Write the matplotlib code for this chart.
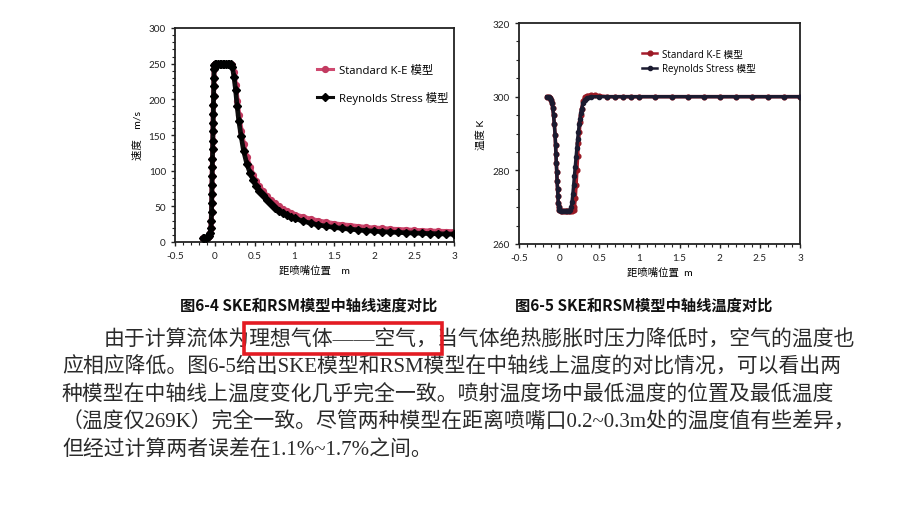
import matplotlib
matplotlib.use("Agg")
import matplotlib.pyplot as plt
from matplotlib.patches import Rectangle
from matplotlib.ticker import MultipleLocator

plt.rcParams['font.family'] = ['Lato', 'Noto Sans CJK SC', 'DejaVu Sans']

# ---------------- data: velocity along axis (Fig 6-4) ----------------
vel_x = [-0.150, -0.130, -0.110, -0.090, -0.075, -0.060, -0.050, -0.045, -0.042, -0.040,
         -0.038, -0.036, -0.034, -0.032, -0.030, -0.028, -0.026, -0.024, -0.022, -0.020,
         -0.018, -0.016, -0.014, -0.012, -0.010, -0.005, 0.000, 0.02, 0.04, 0.06,
         0.08, 0.10, 0.12, 0.14, 0.16, 0.18, 0.20, 0.22, 0.24, 0.26,
         0.28, 0.30, 0.33, 0.36, 0.40, 0.44, 0.48, 0.52, 0.56, 0.60,
         0.65, 0.70, 0.75, 0.80, 0.85, 0.90, 0.95, 1.0, 1.1, 1.2,
         1.3, 1.4, 1.5, 1.6, 1.7, 1.8, 1.9, 2.0, 2.1, 2.2,
         2.3, 2.4, 2.5, 2.6, 2.7, 2.8, 2.9, 3.0]
vel_rsm = [5, 5, 6, 7, 9, 12, 20, 30, 42, 55,
           67, 80, 92, 105, 117, 130, 142, 155, 167, 180,
           192, 205, 218, 230, 242, 248, 250, 250, 250, 250,
           250, 250, 250, 250, 250, 250, 249, 245, 232, 213,
           190, 170, 148, 128, 110, 97, 87, 78, 71, 66,
           59, 53, 48, 44, 41, 38, 35.5, 33, 29.5, 26.5,
           24, 22, 20.5, 19, 18, 17, 16, 15.2, 14.5, 14,
           13.4, 13, 12.6, 12.2, 11.9, 11.6, 11.3, 11]
vel_ske = [5, 5, 6, 7, 9, 12, 20, 30, 42, 55,
           67, 80, 92, 105, 117, 130, 142, 155, 167, 180,
           192, 205, 218, 230, 242, 248, 250, 250, 250, 250,
           250, 250, 250, 250, 250, 250, 250, 248, 238, 220,
           198, 178, 156, 137, 119, 105, 94, 85, 78, 72,
           65, 59, 54, 50, 46.5, 43.5, 41, 38.5, 35, 32,
           29.5, 27.5, 25.5, 24, 23, 21.5, 20.5, 19.5, 19, 18,
           17.5, 17, 16.3, 15.8, 15.4, 15, 14.7, 14.5]

# ---------------- data: temperature along axis (Fig 6-5) ----------------
tmp_x_rsm = [-0.15, -0.13, -0.11, -0.10, -0.09, -0.08, -0.07, -0.06, -0.05, -0.045,
             -0.04, -0.035, -0.03, -0.025, -0.02, -0.015, -0.01, -0.005, 0.0, 0.02,
             0.04, 0.06, 0.08, 0.10, 0.12, 0.14, 0.15, 0.16, 0.17, 0.18,
             0.19, 0.20, 0.21, 0.22, 0.23, 0.24, 0.25, 0.26, 0.27, 0.28,
             0.30, 0.32, 0.35, 0.40, 0.5, 0.6, 0.7, 0.8, 0.9, 1.0,
             1.2, 1.4, 1.6, 1.8, 2.0, 2.2, 2.4, 2.6, 2.8, 3.0]
tmp_rsm = [300, 300, 299.7, 299.2, 298.3, 297, 295, 292.5, 289.5, 287,
           284.5, 282, 279.5, 277, 275, 273, 271, 270, 269.3, 269,
           269, 269, 269, 269, 269, 269.3, 270, 271.5, 273.5, 276,
           278.5, 281, 283.5, 286, 288.5, 290.5, 292.5, 294, 295.5, 296.7,
           298.3, 299.2, 299.7, 300, 300, 300, 300, 300, 300, 300,
           300, 300, 300, 300, 300, 300, 300, 300, 300, 300]
tmp_x_ske = [-0.15, -0.13, -0.11, -0.10, -0.09, -0.08, -0.07, -0.06, -0.05, -0.045,
             -0.04, -0.035, -0.03, -0.025, -0.02, -0.015, -0.01, -0.005, 0.0, 0.02,
             0.04, 0.06, 0.08, 0.10, 0.12, 0.14, 0.16, 0.18, 0.19, 0.20,
             0.21, 0.22, 0.23, 0.24, 0.25, 0.26, 0.27, 0.28, 0.30, 0.32,
             0.35, 0.40, 0.45, 0.50, 0.6, 0.7, 0.8, 0.9, 1.0, 1.2,
             1.4, 1.6, 1.8, 2.0, 2.2, 2.4, 2.6, 2.8, 3.0]
tmp_ske = [300, 300, 299.7, 299.2, 298.3, 297, 295, 292.5, 289.5, 287,
           284.5, 282, 279.5, 277, 275, 273, 271, 270, 269.3, 269,
           269, 269, 269, 269, 269, 269, 269, 269.2, 270, 272.5,
           276, 280, 284, 287.5, 290.5, 293, 295, 296.7, 298.8, 299.8,
           300.3, 300.5, 300.4, 300.2, 300, 300, 300, 300, 300, 300,
           300, 300, 300, 300, 300, 300, 300, 300, 300]

xticks = [-0.5, 0, 0.5, 1, 1.5, 2, 2.5, 3]
xtick_labels = ['-0.5', '0', '0.5', '1', '1.5', '2', '2.5', '3']
vel_yticks = [0, 50, 100, 150, 200, 250, 300]
tmp_yticks = [260, 280, 300, 320]

legend_labels = ['Standard K-E 模型', 'Reynolds Stress 模型']

caption_left = '图6-4 SKE和RSM模型中轴线速度对比'
caption_right = '图6-5 SKE和RSM模型中轴线温度对比'
para_lines = [
    '由于计算流体为理想气体——空气，当气体绝热膨胀时压力降低时，空气的温度也',
    '应相应降低。图6-5给出SKE模型和RSM模型在中轴线上温度的对比情况，可以看出两',
    '种模型在中轴线上温度变化几乎完全一致。喷射温度场中最低温度的位置及最低温度',
    '（温度仅269K）完全一致。尽管两种模型在距离喷嘴口0.2~0.3m处的温度值有些差异，',
    '但经过计算两者误差在1.1%~1.7%之间。',
]
boxed_prefix = '由于计算流体为'
boxed_phrase = '理想气体——空气，'

W, H = 900, 506
fig = plt.figure(figsize=(9, 5.06), dpi=100)
fig.patch.set_facecolor('white')


def px_axes(l, t, r, b):
    return fig.add_axes([l / W, 1 - b / H, (r - l) / W, (b - t) / H])


def style_axes(ax):
    for s in ax.spines.values():
        s.set_color('#222222')
        s.set_linewidth(1.3)
    ax.set_xlim(-0.5, 3)
    ax.set_xticks(xticks)
    ax.set_xticklabels(xtick_labels)
    ax.xaxis.set_minor_locator(MultipleLocator(0.1))
    ax.tick_params(which='major', direction='out', length=3, width=1, labelsize=7.2,
                   colors='#222222', pad=3.5)
    ax.tick_params(which='minor', direction='out', length=2, width=0.8, colors='#222222')
    ax.tick_params(top=False, right=False, which='both')


leg_font = ['Open Sans', 'Noto Sans CJK SC']

# ---------------- left chart ----------------
ax1 = px_axes(175, 29, 454, 243)
style_axes(ax1)
ax1.set_ylim(0, 300)
ax1.set_yticks(vel_yticks)
ax1.yaxis.set_minor_locator(MultipleLocator(10))
ax1.plot(vel_x, vel_ske, color='#cf4a70', lw=3.6, marker='o', ms=4.2,
         markerfacecolor='#c23a60', markeredgecolor='#c23a60', label=legend_labels[0], zorder=2)
ax1.plot(vel_x, vel_rsm, color='#0d0d0d', lw=3.4, marker='D', ms=3.8,
         markerfacecolor='black', markeredgecolor='black', label=legend_labels[1], zorder=3)
ax1.set_xlabel('距喷嘴位置    m', fontsize=7.5, labelpad=3)
ax1.set_ylabel('速度    m/s', fontsize=7.5, labelpad=4)
lg1 = ax1.legend(loc='upper left', bbox_to_anchor=(0.49, 0.855), frameon=False,
                 prop={'family': leg_font, 'size': 8.2},
                 handlelength=1.4, handletextpad=0.5, labelspacing=1.35, borderpad=0)
for h in lg1.get_lines():
    h.set_linewidth(2.2)

# ---------------- right chart ----------------
ax2 = px_axes(519, 24, 800, 245)
style_axes(ax2)
ax2.set_ylim(260, 320)
ax2.set_yticks(tmp_yticks)
ax2.yaxis.set_minor_locator(MultipleLocator(5))
ax2.plot(tmp_x_ske, tmp_ske, color='#a51c2c', lw=2.6, marker='o', ms=3.4,
         markerfacecolor='#9a1a25', markeredgecolor='#9a1a25', label=legend_labels[0], zorder=2)
ax2.plot(tmp_x_rsm, tmp_rsm, color='#1b1b30', lw=2.4, marker='o', ms=3.0,
         markerfacecolor='#1b1b30', markeredgecolor='#1b1b30', label=legend_labels[1], zorder=3)
ax2.set_xlabel('距喷嘴位置  m', fontsize=7.5, labelpad=3)
ax2.set_ylabel('温度 K', fontsize=7.5, labelpad=4)
lg2 = ax2.legend(loc='upper left', bbox_to_anchor=(0.42, 0.905), frameon=False,
                 prop={'family': leg_font, 'size': 7},
                 handlelength=1.6, handletextpad=0.5, labelspacing=0.35, borderpad=0)
for h in lg2.get_lines():
    h.set_linewidth(1.8)

# ---------------- captions ----------------
cap_font = ['Noto Sans CJK SC', 'DejaVu Sans']
fig.text(309 / W, 1 - 306 / H, caption_left, ha='center', va='center', fontsize=11,
         family=cap_font, weight='bold', color='#111111')
fig.text(644 / W, 1 - 306 / H, caption_right, ha='center', va='center', fontsize=11,
         family=cap_font, weight='bold', color='#111111')

# ---------------- paragraph ----------------
para_font = ['Liberation Serif', 'Noto Sans CJK SC']
para_size = 15
line_x = [104, 62, 62, 62, 62]
line_y = [340, 367.5, 395, 422.5, 450]
for txt, lx, ly in zip(para_lines, line_x, line_y):
    fig.text(lx / W, 1 - ly / H, txt, ha='left', va='center', fontsize=para_size,
             family=para_font, color='#2a2a2a')

# red highlight box around the phrase in line 1 (position measured from rendered text)
fig.canvas.draw()
rend = fig.canvas.get_renderer()
tmp1 = fig.text(line_x[0] / W, 1 - line_y[0] / H, boxed_prefix, ha='left', va='center',
                fontsize=para_size, family=para_font)
tmp2 = fig.text(line_x[0] / W, 1 - line_y[0] / H, boxed_prefix + boxed_phrase, ha='left',
                va='center', fontsize=para_size, family=para_font)
b1 = tmp1.get_window_extent(rend)
b2 = tmp2.get_window_extent(rend)
tmp1.remove()
tmp2.remove()
x0 = b1.x1 - 6
x1 = b2.x1 + 4
yc = H - line_y[0]
fig.patches.append(Rectangle((x0 / W, (yc - 15) / H), (x1 - x0) / W, 31 / H,
                             transform=fig.transFigure, fill=False, edgecolor='#e31b23',
                             linewidth=2.6, zorder=5))

fig.savefig('out.png', dpi=100, facecolor='white')
